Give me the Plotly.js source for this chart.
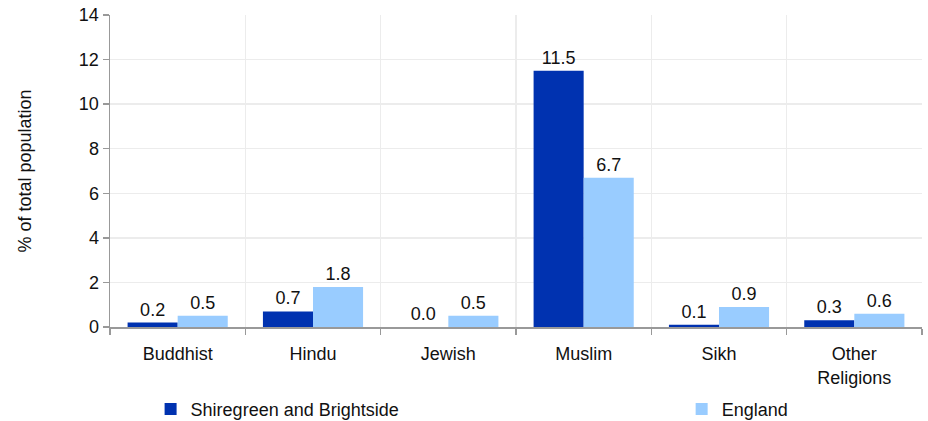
<!DOCTYPE html>
<html>
<head>
<meta charset="utf-8">
<script src="https://cdn.plot.ly/plotly-3.0.1.min.js"></script>
<style>html,body{margin:0;padding:0;background:#fff;}#chart{width:928px;height:421px;}</style>
</head>
<body>
<div id="chart"></div>
<script>
const categories = ['Buddhist', 'Hindu', 'Jewish', 'Muslim', 'Sikh', 'Other<br>Religions'];
const localName = 'Shiregreen and Brightside';
const localValues = [0.2, 0.7, 0.0, 11.5, 0.1, 0.3];
const englandName = 'England';
const englandValues = [0.5, 1.8, 0.5, 6.7, 0.9, 0.6];
const yTicks = [0, 2, 4, 6, 8, 10, 12, 14];

const font = 'Liberation Sans, Arial, sans-serif';
const fs = 18;

const traces = [
  {
    type: 'bar', name: localName, x: categories, y: localValues,
    marker: {color: '#0032B0'}, legend: 'legend',
    text: localValues.map(v => v.toFixed(1)), textposition: 'outside',
    textfont: {family: font, size: fs, color: '#111'}, cliponaxis: false,
    hoverinfo: 'none'
  },
  {
    type: 'bar', name: englandName, x: categories, y: englandValues,
    marker: {color: '#99CCFF'}, legend: 'legend2',
    text: englandValues.map(v => v.toFixed(1)), textposition: 'outside',
    textfont: {family: font, size: fs, color: '#111'}, cliponaxis: false,
    hoverinfo: 'none'
  }
];

const legendCommon = {
  orientation: 'h', xanchor: 'left', yref: 'container', y: 0.028, yanchor: 'middle',
  font: {family: font, size: fs, color: '#111'}, bgcolor: 'rgba(0,0,0,0)'
};

const layout = {
  width: 928, height: 421,
  margin: {l: 110, r: 6, t: 15, b: 94},
  paper_bgcolor: '#fff', plot_bgcolor: '#fff',
  font: {family: font, size: fs, color: '#111'},
  barmode: 'group', bargap: 0.26, bargroupgap: 0,
  showlegend: true,
  legend: Object.assign({}, legendCommon, {x: 0.05}),
  legend2: Object.assign({}, legendCommon, {x: 0.704}),
  xaxis: {
    type: 'category', tickson: 'boundaries', ticks: 'outside', ticklen: 6, tickcolor: '#999', tickwidth: 1.5,
    showline: true, linecolor: '#999', linewidth: 1.5,
    showgrid: true, gridcolor: '#ececec', gridwidth: 1.5,
    ticklabelstandoff: 10,
    tickfont: {family: font, size: fs, color: '#111'}, automargin: false
  },
  yaxis: {
    range: [0, 14], tickvals: yTicks, ticks: 'outside', ticklen: 6, tickcolor: '#999', tickwidth: 1.5,
    showline: true, linecolor: '#999', linewidth: 1.5,
    showgrid: true, gridcolor: '#ececec', gridwidth: 1.5, zeroline: false,
    tickfont: {family: font, size: fs, color: '#111'},
    title: {text: '% of total population', font: {family: font, size: fs, color: '#111'}, standoff: 42},
    automargin: false
  }
};

Plotly.newPlot('chart', traces, layout, {staticPlot: true, displayModeBar: false});
</script>
</body>
</html>
